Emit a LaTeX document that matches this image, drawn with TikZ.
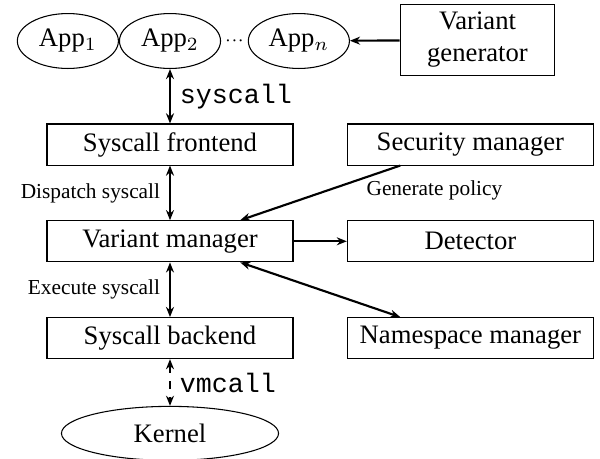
\documentclass[tikz,border=0pt]{standalone}
\usepackage{fontspec}
\setmainfont{Liberation Serif}
\setmonofont{Liberation Mono}
\usepackage{tikz}
\usetikzlibrary{shapes.geometric, arrows.meta, positioning}

\begin{document}
\begin{tikzpicture}[
    x=0.375pt, y=-0.375pt,
    node distance=20.5pt and 20pt,
    block/.style={rectangle, draw, minimum height=15.4pt, minimum width=92.25pt,
                  text centered, inner sep=2pt},
    app/.style={ellipse, draw, minimum height=20.6pt, minimum width=37.9pt, inner sep=1pt},
    arrow/.style={-{Stealth[length=3.8pt, width=3pt]}, thick},
    both/.style={{Stealth[length=3.8pt, width=3pt]}-{Stealth[length=3.8pt, width=3pt]}, thick},
    lbl/.style={font=\footnotesize}
]
    \useasboundingbox (0,0) rectangle (600,458);

    \node[app] (app2) at (170,41) {App$_2$};
    \node[app, left=0pt of app2] (app1) {App$_1$};
    \node[inner sep=0pt, right=1.25pt of app2] (dots) {$\scriptstyle\cdots$};
    \node[app, right=1.25pt of dots] (appn) {App$_n$};
    \node[block, minimum width=58pt, minimum height=26.6pt, align=center] (gen) at (477.5,40) {Variant\\generator};

    \node[block] (front) at (170,144.5) {Syscall frontend};
    \node[block, below=of front] (vm) {Variant manager};
    \node[block, below=of vm] (back) {Syscall backend};
    \node[block, right=of front] (sec) {Security manager};
    \node[block, right=of vm] (det) {Detector};
    \node[block, right=of back] (ns) {Namespace manager};
    \node[app, minimum width=81.4pt, minimum height=20.25pt, below=17.5pt of back] (kernel) {Kernel};

    \draw[arrow] (gen) -- (appn);
    \draw[both] (app2) -- node[right] {\texttt{syscall}} (front);
    \draw[both] (front) -- node[left, lbl] {Dispatch syscall} (vm);
    \draw[both] (vm) -- node[left, lbl] {Execute syscall} (back);
    \draw[both, dashed] (back) -- node[right] {\texttt{vmcall}} (kernel);
    \draw[arrow] ([xshift=20pt]sec.south west) -- node[below right, pos=0.2, xshift=-2pt, inner sep=1pt, lbl] {Generate policy} ([xshift=-20pt]vm.north east);
    \draw[arrow] (vm) -- (det);
    \draw[both] ([xshift=-20pt]vm.south east) -- ([xshift=20pt]ns.north west);
\end{tikzpicture}
\end{document}
